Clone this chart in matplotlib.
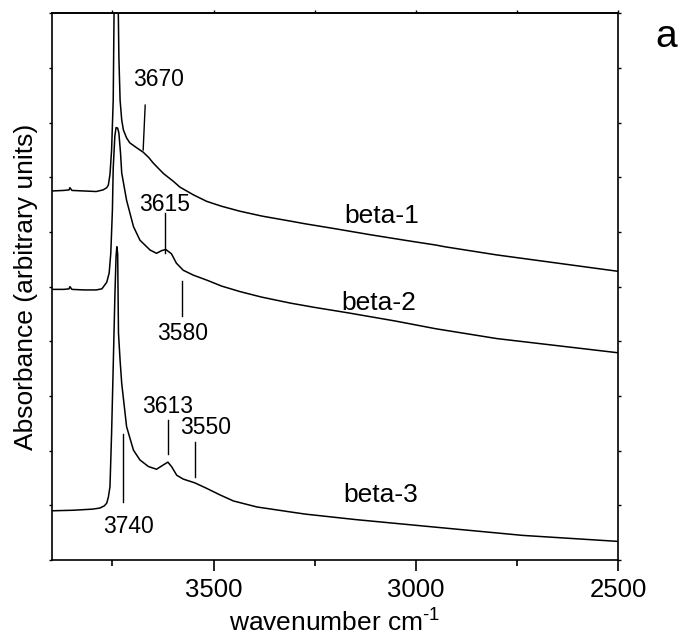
import matplotlib
matplotlib.use("Agg")
import matplotlib.pyplot as plt
from matplotlib.ticker import MultipleLocator

plt.rcParams['font.family'] = ['Liberation Sans', 'DejaVu Sans']
plt.rcParams['mathtext.fontset'] = 'custom'
plt.rcParams['mathtext.rm'] = 'Liberation Sans'

# spectra (wavenumber, absorbance in axis units 0..1)
wn_beta1 = [3900, 3870, 3857, 3855, 3850, 3820, 3790, 3773, 3764, 3760, 3756, 3752, 3748, 3744,
            3738, 3734, 3731, 3727, 3723, 3715, 3707, 3690, 3674, 3660, 3649, 3624, 3600,
            3583, 3550, 3517, 3480, 3435, 3380, 3311, 3274, 3200, 3113, 3020, 2950, 2929,
            2800, 2650, 2500]
ab_beta1 = [0.675, 0.676, 0.677, 0.681, 0.676, 0.675, 0.674, 0.677, 0.681, 0.686, 0.705, 0.750,
            0.841, 1.15, 1.15, 0.92, 0.841, 0.805, 0.787, 0.772, 0.763, 0.754, 0.746, 0.736,
            0.726, 0.707, 0.693, 0.682, 0.668, 0.656, 0.647, 0.638, 0.629, 0.620, 0.615,
            0.606, 0.595, 0.584, 0.576, 0.573, 0.558, 0.543, 0.528]

wn_beta2 = [3900, 3870, 3857, 3855, 3850, 3820, 3790, 3776, 3764, 3758, 3754, 3750, 3748, 3744,
            3741, 3737, 3734, 3730, 3727, 3715, 3698, 3682, 3657, 3641, 3628, 3618, 3604,
            3592, 3575, 3550, 3517, 3480, 3435, 3382, 3311, 3250, 3167, 3050, 2951, 2800,
            2650, 2500]
ab_beta2 = [0.495, 0.495, 0.496, 0.500, 0.495, 0.494, 0.494, 0.496, 0.508, 0.525, 0.561, 0.640,
            0.717, 0.775, 0.791, 0.790, 0.781, 0.745, 0.708, 0.658, 0.610, 0.585, 0.567,
            0.561, 0.566, 0.568, 0.560, 0.543, 0.530, 0.521, 0.512, 0.501, 0.491, 0.481,
            0.470, 0.462, 0.452, 0.437, 0.423, 0.405, 0.392, 0.379]

wn_beta3 = [3900, 3847, 3800, 3781, 3770, 3764, 3760, 3756, 3752, 3748, 3744, 3741, 3739, 3737,
            3735, 3731, 3727, 3715, 3698, 3682, 3661, 3641, 3624, 3613, 3604, 3591, 3575,
            3546, 3517, 3484, 3451, 3393, 3311, 3274, 3150, 2951, 2736, 2500]
ab_beta3 = [0.090, 0.091, 0.093, 0.095, 0.099, 0.104, 0.115, 0.134, 0.232, 0.354, 0.480, 0.555,
            0.573, 0.560, 0.415, 0.365, 0.323, 0.244, 0.201, 0.183, 0.171, 0.166, 0.174,
            0.179, 0.171, 0.155, 0.148, 0.141, 0.131, 0.119, 0.108, 0.097, 0.088, 0.084,
            0.074, 0.060, 0.045, 0.034]

# peak markers: label, line x, line y0, line y1, text x, text y
marker_labels = ['3670', '3615', '3580', '3613', '3550', '3740']
marker_x0 = [3669, 3620, 3577, 3612, 3547, 3723]
marker_x1 = [3674, 3620, 3577, 3612, 3547, 3723]
marker_y0 = [0.832, 0.634, 0.510, 0.256, 0.216, 0.230]
marker_y1 = [0.750, 0.562, 0.446, 0.194, 0.151, 0.106]
marker_tx = [3635, 3622, 3577, 3614, 3520, 3711]
marker_ty = [0.878, 0.651, 0.415, 0.280, 0.243, 0.062]

series_labels = ['beta-1', 'beta-2', 'beta-3']
series_lx = [3084, 3091, 3086]
series_ly = [0.629, 0.470, 0.118]

fig = plt.figure(figsize=(6.83, 6.44), dpi=100)
ax = fig.add_axes([51.7 / 683, 1 - 560 / 644, 566.6 / 683, 546.7 / 644])

for wn, ab in [(wn_beta1, ab_beta1), (wn_beta2, ab_beta2), (wn_beta3, ab_beta3)]:
    ax.plot(wn, ab, color='black', lw=1.1)

for lab, x0, x1, y0, y1, tx, ty in zip(marker_labels, marker_x0, marker_x1, marker_y0,
                                       marker_y1, marker_tx, marker_ty):
    ax.plot([x0, x1], [y0, y1], color='black', lw=1.0)
    ax.text(tx, ty, lab, fontsize=16.5, ha='center', va='center')

for lab, lx, ly in zip(series_labels, series_lx, series_ly):
    ax.text(lx, ly, lab, fontsize=19, ha='center', va='center')

ax.set_xlim(3900, 2500)
ax.set_ylim(0, 1)
ax.xaxis.set_major_locator(MultipleLocator(500))
ax.xaxis.set_minor_locator(MultipleLocator(250))
ax.yaxis.set_major_locator(MultipleLocator(0.1))
ax.set_yticklabels([])
ax.tick_params(axis='x', which='major', direction='out', length=8, width=1.2,
               labelsize=18.5, pad=5)
ax.tick_params(axis='x', which='minor', direction='out', length=4, width=1.2)
ax.tick_params(axis='y', which='major', direction='out', length=2.5, width=1.0,
               right=True)
for s in ax.spines.values():
    s.set_linewidth(1.2)

# short ticks along the top edge
top = ax.secondary_xaxis('top')
top.xaxis.set_major_locator(MultipleLocator(500))
top.xaxis.set_minor_locator(MultipleLocator(250))
top.tick_params(which='both', direction='out', length=2.5, width=1.0, labeltop=False)
top.spines['top'].set_linewidth(1.2)

ax.set_xlabel(r'wavenumber cm$^{\mathregular{\text{-1}}}$', fontsize=19, labelpad=4)
ax.set_ylabel('Absorbance (arbitrary units)', fontsize=19, labelpad=4)

fig.text(0.975, 1 - 37 / 644, 'a', fontsize=28, ha='center', va='center')

fig.savefig('out.png', dpi=100)
